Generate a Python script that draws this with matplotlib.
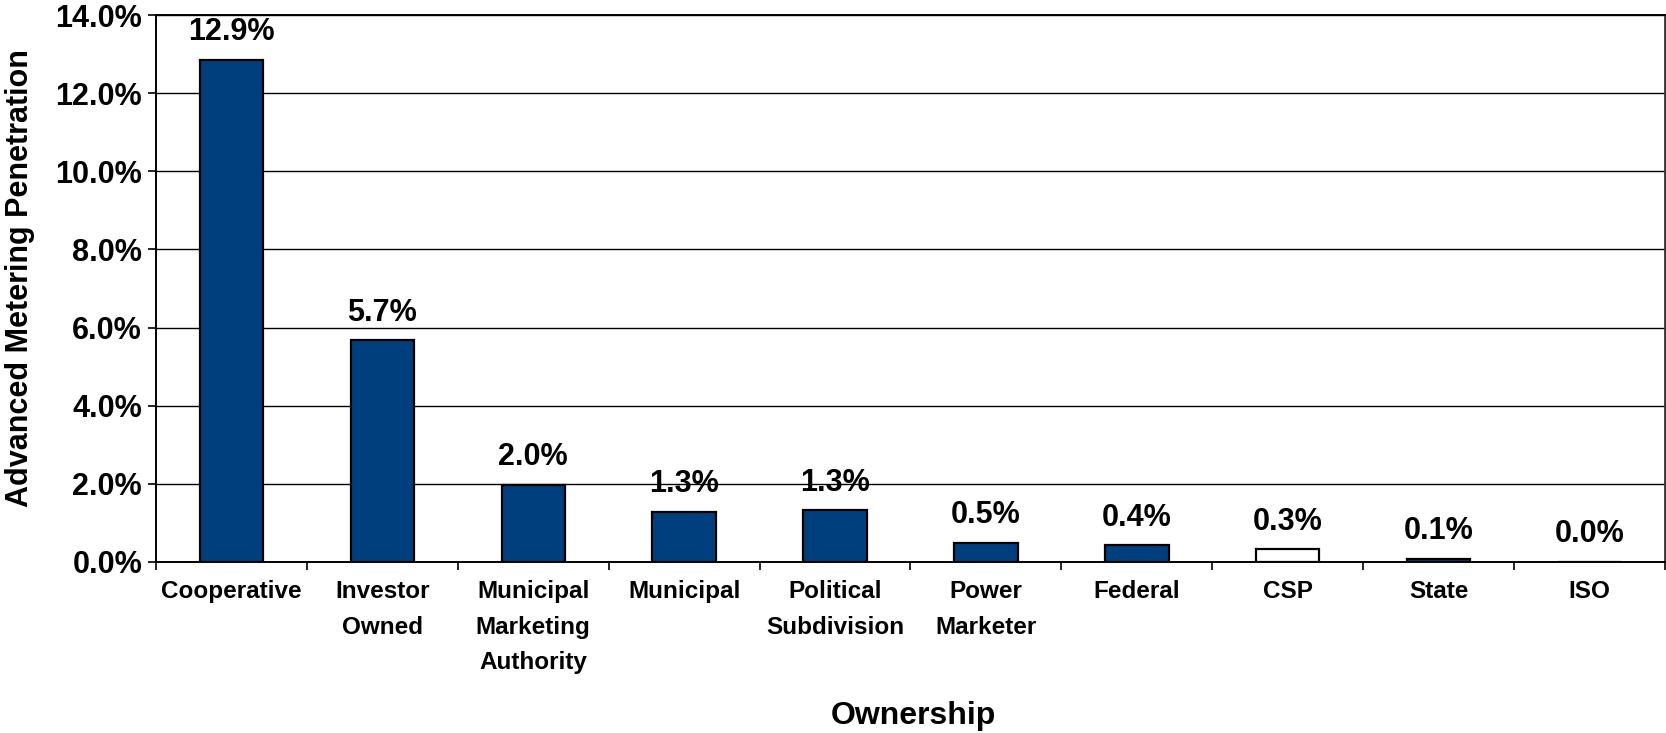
import matplotlib

matplotlib.use("Agg")
import matplotlib.pyplot as plt
import numpy as np
from matplotlib.ticker import FixedLocator, FuncFormatter

plt.rcParams["font.family"] = ["Liberation Sans", "DejaVu Sans"]
plt.rcParams["font.weight"] = "bold"

# ---------------------------------------------------------------------------
# Data
# ---------------------------------------------------------------------------
categories = [
    "Cooperative",
    "Investor\nOwned",
    "Municipal\nMarketing\nAuthority",
    "Municipal",
    "Political\nSubdivision",
    "Power\nMarketer",
    "Federal",
    "CSP",
    "State",
    "ISO",
]
penetration = [12.86, 5.68, 1.98, 1.28, 1.33, 0.49, 0.43, 0.33, 0.08, 0.0]
value_labels = ["12.9%", "5.7%", "2.0%", "1.3%", "1.3%", "0.5%", "0.4%", "0.3%", "0.1%", "0.0%"]
y_ticks = [0, 2, 4, 6, 8, 10, 12, 14]

BLUE = "#003F7D"
fills = [BLUE] * len(categories)
fills[categories.index("CSP")] = "white"

fig = plt.figure(figsize=(16.66, 7.33), dpi=100)
ax = fig.add_axes([0.0936, 0.2333, 0.9058, 0.7462])

x = np.arange(len(categories))
bars = ax.bar(x, penetration, width=0.42, color=fills, edgecolor="black",
              linewidth=1.6, zorder=3)

for rect, lab in zip(bars, value_labels):
    ax.annotate(lab, (rect.get_x() + rect.get_width() / 2, rect.get_height()),
                xytext=(0, 9), textcoords="offset points", ha="center",
                va="bottom", fontsize=22, fontweight="bold")

ax.set_xlim(-0.5, len(categories) - 0.5)
ax.set_ylim(0, 14)
ax.yaxis.set_major_locator(FixedLocator(y_ticks))
ax.yaxis.set_major_formatter(FuncFormatter(lambda v, _: f"{v:.1f}%"))
ax.grid(axis="y", color="black", linewidth=1.0, zorder=0)

ax.set_xticks(x)
ax.set_xticklabels(categories, fontsize=17.5, fontweight="bold", linespacing=1.7,
                   va="top")
ax.set_xticks(np.arange(len(categories) + 1) - 0.5, minor=True)
ax.tick_params(axis="x", which="major", length=0, pad=13)
ax.tick_params(axis="x", which="minor", length=6, width=1.2, color="black")
ax.tick_params(axis="y", length=6, width=1.2, labelsize=22, pad=4)

for side in ("left", "bottom", "top"):
    ax.spines[side].set_linewidth(1.4)
    ax.spines[side].set_color("black")
ax.spines["right"].set_linewidth(2.0)
ax.spines["right"].set_color("#333333")

ax.set_ylabel("Advanced Metering Penetration", fontsize=22, fontweight="bold")
ax.set_xlabel("Ownership", fontsize=23, fontweight="bold")
ax.yaxis.set_label_coords(-0.08, 0.52)
ax.xaxis.set_label_coords(0.502, -0.255)

fig.savefig("out.png", dpi=100)
